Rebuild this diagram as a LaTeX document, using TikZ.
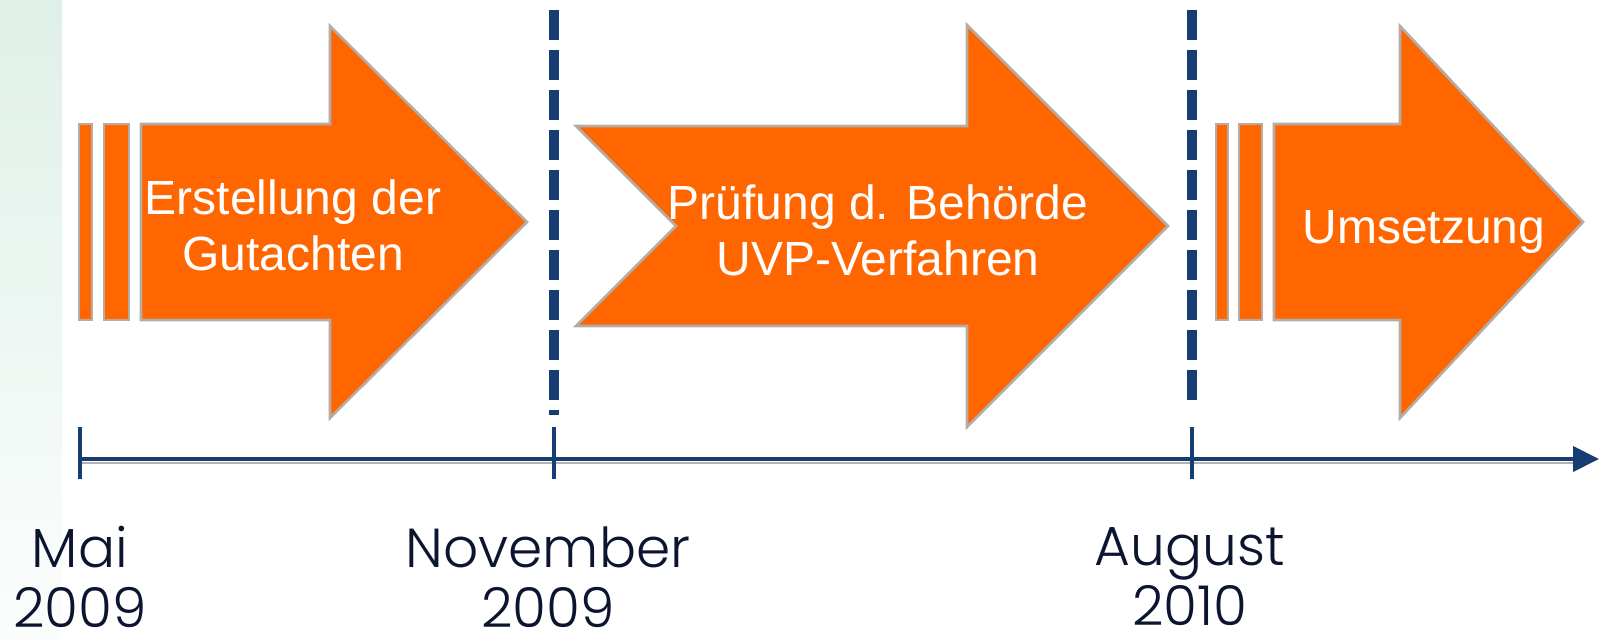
\documentclass[tikz,border=0pt]{standalone}
\usepackage{fontspec}
\setmainfont{Liberation Sans}
\newfontfamily\datefont{Poppins Light}
\usetikzlibrary{arrows.meta}
\definecolor{phase}{HTML}{FF6600}
\definecolor{rim}{HTML}{B5ADA5}
\definecolor{navy}{HTML}{163E72}
\definecolor{ink}{HTML}{0B1530}
\definecolor{mint}{HTML}{DFF0E8}
\begin{document}
\begin{tikzpicture}[x=0.5pt,y=-0.5pt,
    phasebox/.style={fill=phase,draw=rim,line width=1.3pt,line join=miter},
    phasetext/.style={text=white,font=\fontsize{24}{28}\selectfont,align=center},
    milestone/.style={navy,line width=5pt,dash pattern=on 15pt off 5pt},
    datelabel/.style={text=ink,font=\datefont\fontsize{27.5}{30}\selectfont,align=center,inner sep=0pt}]
    \useasboundingbox (0,0) rectangle (1600,640);
    \shade[top color=mint,bottom color=mint!10!white] (0,0) rectangle (62,640);
    % phases
    \draw[phasebox] (79,124) rectangle (92,320);
    \draw[phasebox] (104,124) rectangle (129,320);
    \draw[phasebox] (141,124) -- (330,124) -- (330,26) -- (527,222) -- (330,418) -- (330,320) -- (141,320) -- cycle;
    \draw[phasebox] (576,126) -- (967,126) -- (967,25) -- (1168,226) -- (967,427) -- (967,326) -- (576,326) -- (676,226) -- cycle;
    \draw[phasebox] (1216,124) rectangle (1228,320);
    \draw[phasebox] (1239,124) rectangle (1262,320);
    \draw[phasebox] (1274,124) -- (1400,124) -- (1400,26) -- (1583,222) -- (1400,418) -- (1400,320) -- (1274,320) -- cycle;
    \node[phasetext] (erstellung) at (293,225) {Erstellung der\\Gutachten};
    \node[phasetext] (pruefung) at (878,230) {Prüfung d. Behörde\\UVP-Verfahren};
    \node[phasetext] (umsetzung) at (1424,232) {Umsetzung};
    % milestones
    \draw[milestone] (554,10) -- (554,415);
    \draw[milestone] (1192,10) -- (1192,400);
    % time axis
    \coordinate (mai) at (80,459);
    \coordinate (nov) at (554,459);
    \coordinate (aug) at (1192,459);
    \coordinate (ende) at (1599,459);
    \draw[black!30,line width=1pt] ([yshift=-2pt]mai) -- ([yshift=-2pt,xshift=-12pt]ende);
    \draw[navy,line width=2pt,-{Triangle[length=13pt,width=12.5pt]}] (mai) -- (ende);
    \foreach \m in {mai,nov,aug}
      \draw[navy,line width=2pt] ([yshift=16pt]\m) -- ([yshift=-10pt]\m);
    \node[datelabel] (lmai) at (80,577) {Mai\\2009};
    \node[datelabel] (lnov) at (548,577) {November\\2009};
    \node[datelabel] (laug) at (1190,577) {August\\2010};
\end{tikzpicture}
\end{document}
